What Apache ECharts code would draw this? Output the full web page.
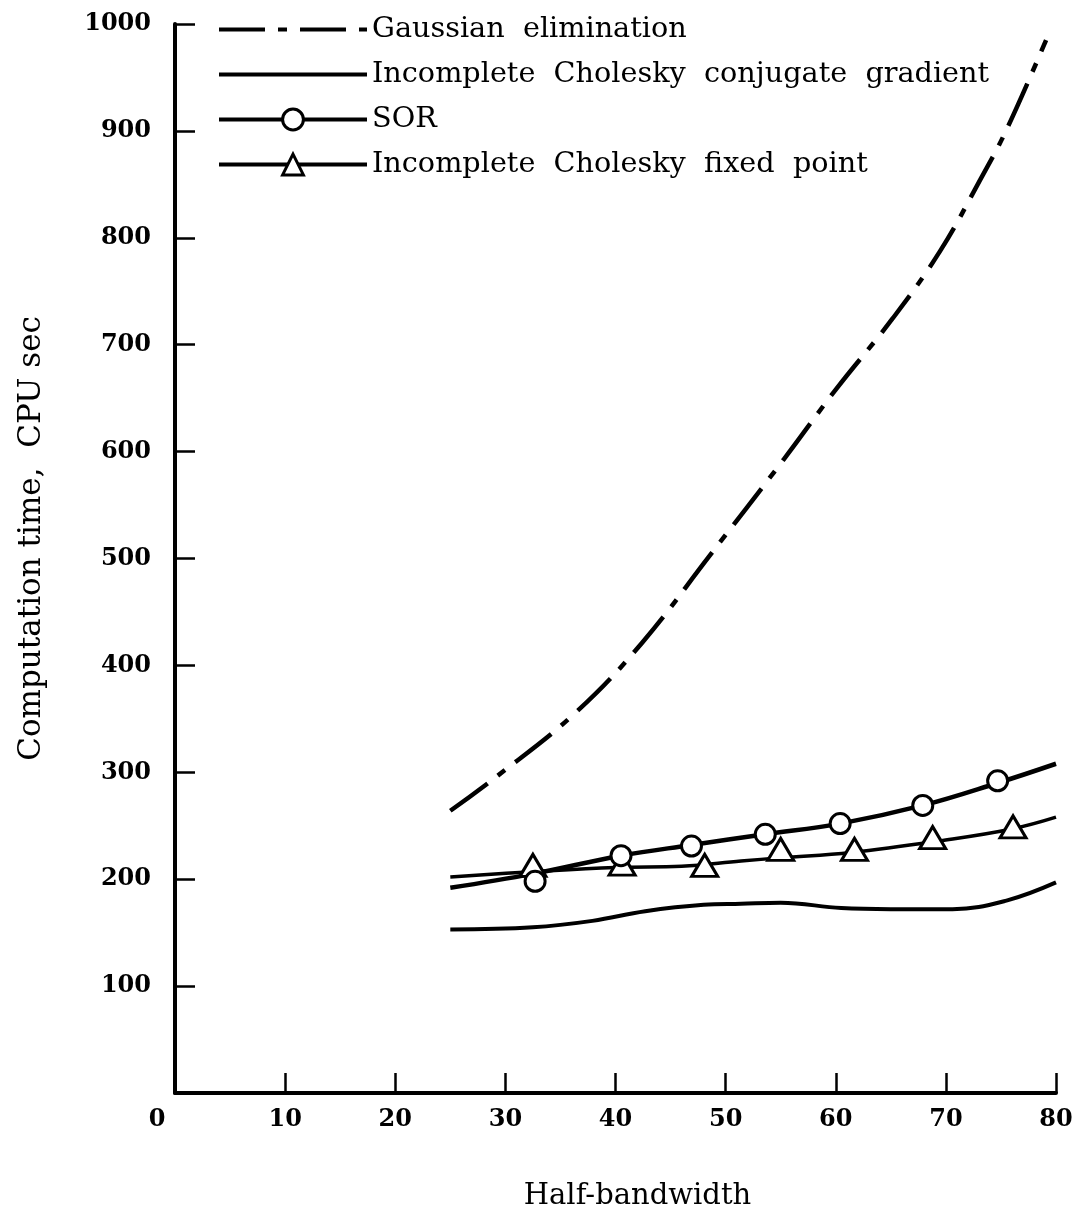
<!DOCTYPE html>
<html>
<head>
<meta charset="utf-8">
<title>Computation time vs half-bandwidth</title>
<script src="https://cdn.jsdelivr.net/npm/echarts@6/dist/echarts.min.js"></script>
<style>
  html, body { margin: 0; padding: 0; background: #fff; }
  #chart { width: 1081px; height: 1210px; }
</style>
</head>
<body>
<div id="chart"></div>
<script>
// values (x = half-bandwidth, y = CPU sec)
const gaussX = [25, 29.2, 36.4, 42.4, 48.5, 55.3, 60, 65.2, 69.5, 73.1, 75.5, 79.1];
const gaussY = [264, 296, 356, 421, 502, 593, 658, 725, 788, 854, 901, 985];

const iccgX = [25, 32.5, 37.9, 42.7, 48, 51.4, 55, 60.5, 65, 70.6, 75.5, 80];
const iccgY = [153, 155, 161, 170, 176, 177, 178, 173, 172, 172, 180, 197];

const sorX = [25, 32.5, 40.5, 46.9, 53.6, 60.4, 67.9, 74.7, 80];
const sorY = [192, 205, 222, 232, 242, 252, 269, 290, 308];
const sorMarkX = [32.7, 40.5, 46.9, 53.6, 60.4, 67.9, 74.7];
const sorMarkY = [198, 222, 231, 242, 252, 269, 292];

const fixX = [25, 32.5, 40, 46, 51.4, 55, 61.4, 69.5, 76, 80];
const fixY = [202, 207, 211, 212, 217, 220, 225, 236, 247, 258];
const fixMarkX = [32.5, 40.6, 48.1, 55, 61.7, 68.8, 76.1];
const fixMarkY = [213, 214, 213, 228, 228, 239, 249];

const names = [
  'Gaussian  elimination',
  'Incomplete  Cholesky  conjugate  gradient',
  'SOR',
  'Incomplete  Cholesky  fixed  point'
];

const pairs = (xs, ys) => xs.map((x, i) => [x, ys[i]]);

const chart = echarts.init(document.getElementById('chart'));

const serifBold = {fontFamily: 'DejaVu Serif', fontWeight: 'bold', fontSize: 24, color: '#000'};

chart.setOption({
  animation: false,
  backgroundColor: '#fff',
  grid: {left: 175, right: 25, top: 24, bottom: 117, outerBoundsMode: 'none'},
  legend: {
    left: 212,
    top: 10,
    orient: 'vertical',
    itemWidth: 148,
    itemHeight: 26,
    itemGap: 16,
    lineStyle: {width: 4},
    itemStyle: {borderWidth: 3},
    textStyle: {fontFamily: 'DejaVu Serif', fontSize: 28.7, color: '#000'},
    data: [
      {name: names[0], itemStyle: {opacity: 0}},
      {name: names[1], itemStyle: {opacity: 0}},
      {name: names[2]},
      {name: names[3]}
    ]
  },
  xAxis: {
    type: 'value',
    min: 0,
    max: 80,
    interval: 10,
    name: 'Half-bandwidth',
    nameLocation: 'middle',
    nameGap: 89,
    nameTextStyle: {fontFamily: 'DejaVu Serif', fontSize: 29, color: '#000', padding: [0, 0, 0, 44]},
    axisLine: {lineStyle: {color: '#000', width: 4}},
    axisTick: {inside: true, length: 20, lineStyle: {color: '#000', width: 2.5}},
    axisLabel: Object.assign({}, serifBold, {
      margin: 15,
      formatter: v => v === 0 ? '{z|0}' : String(v),
      rich: {z: Object.assign({}, serifBold, {padding: [0, 36, 0, 0]})}
    }),
    splitLine: {show: false}
  },
  yAxis: {
    type: 'value',
    min: 0,
    max: 1000,
    interval: 100,
    name: 'Computation time,  CPU sec',
    nameLocation: 'middle',
    nameGap: 128,
    nameTextStyle: {fontFamily: 'DejaVu Serif', fontSize: 31, color: '#000', padding: [0, 0, 0, 40]},
    axisLine: {lineStyle: {color: '#000', width: 4}},
    axisTick: {inside: true, length: 20, lineStyle: {color: '#000', width: 2.5}},
    axisLabel: Object.assign({}, serifBold, {
      margin: 24,
      showMinLabel: false,
      formatter: v => String(v)
    }),
    splitLine: {show: false}
  },
  series: [
    {
      name: names[0],
      type: 'line',
      smooth: 0.4,
      symbol: 'none',
      lineStyle: {color: '#000', width: 4.5, type: [46, 13, 9, 13]},
      itemStyle: {color: '#000'},
      data: pairs(gaussX, gaussY)
    },
    {
      name: names[1],
      type: 'line',
      smooth: 0.4,
      symbol: 'none',
      lineStyle: {color: '#000', width: 4},
      itemStyle: {color: '#000'},
      data: pairs(iccgX, iccgY)
    },
    {
      name: names[2],
      type: 'line',
      smooth: 0.4,
      symbol: 'circle',
      showSymbol: false,
      lineStyle: {color: '#000', width: 4.5},
      itemStyle: {color: '#fff', borderColor: '#000', borderWidth: 3},
      data: pairs(sorX, sorY)
    },
    {
      name: names[3],
      type: 'line',
      smooth: 0.4,
      symbol: 'triangle',
      showSymbol: false,
      lineStyle: {color: '#000', width: 3.5},
      itemStyle: {color: '#fff', borderColor: '#000', borderWidth: 3},
      data: pairs(fixX, fixY)
    },
    {
      name: names[2],
      type: 'scatter',
      z: 5,
      symbol: 'circle',
      symbolSize: 20,
      itemStyle: {color: '#fff', borderColor: '#000', borderWidth: 3, opacity: 1},
      data: pairs(sorMarkX, sorMarkY)
    },
    {
      name: names[3],
      type: 'scatter',
      z: 4,
      symbol: 'triangle',
      symbolSize: [26, 22],
      itemStyle: {color: '#fff', borderColor: '#000', borderWidth: 3, opacity: 1},
      data: pairs(fixMarkX, fixMarkY)
    }
  ]
});
</script>
</body>
</html>
